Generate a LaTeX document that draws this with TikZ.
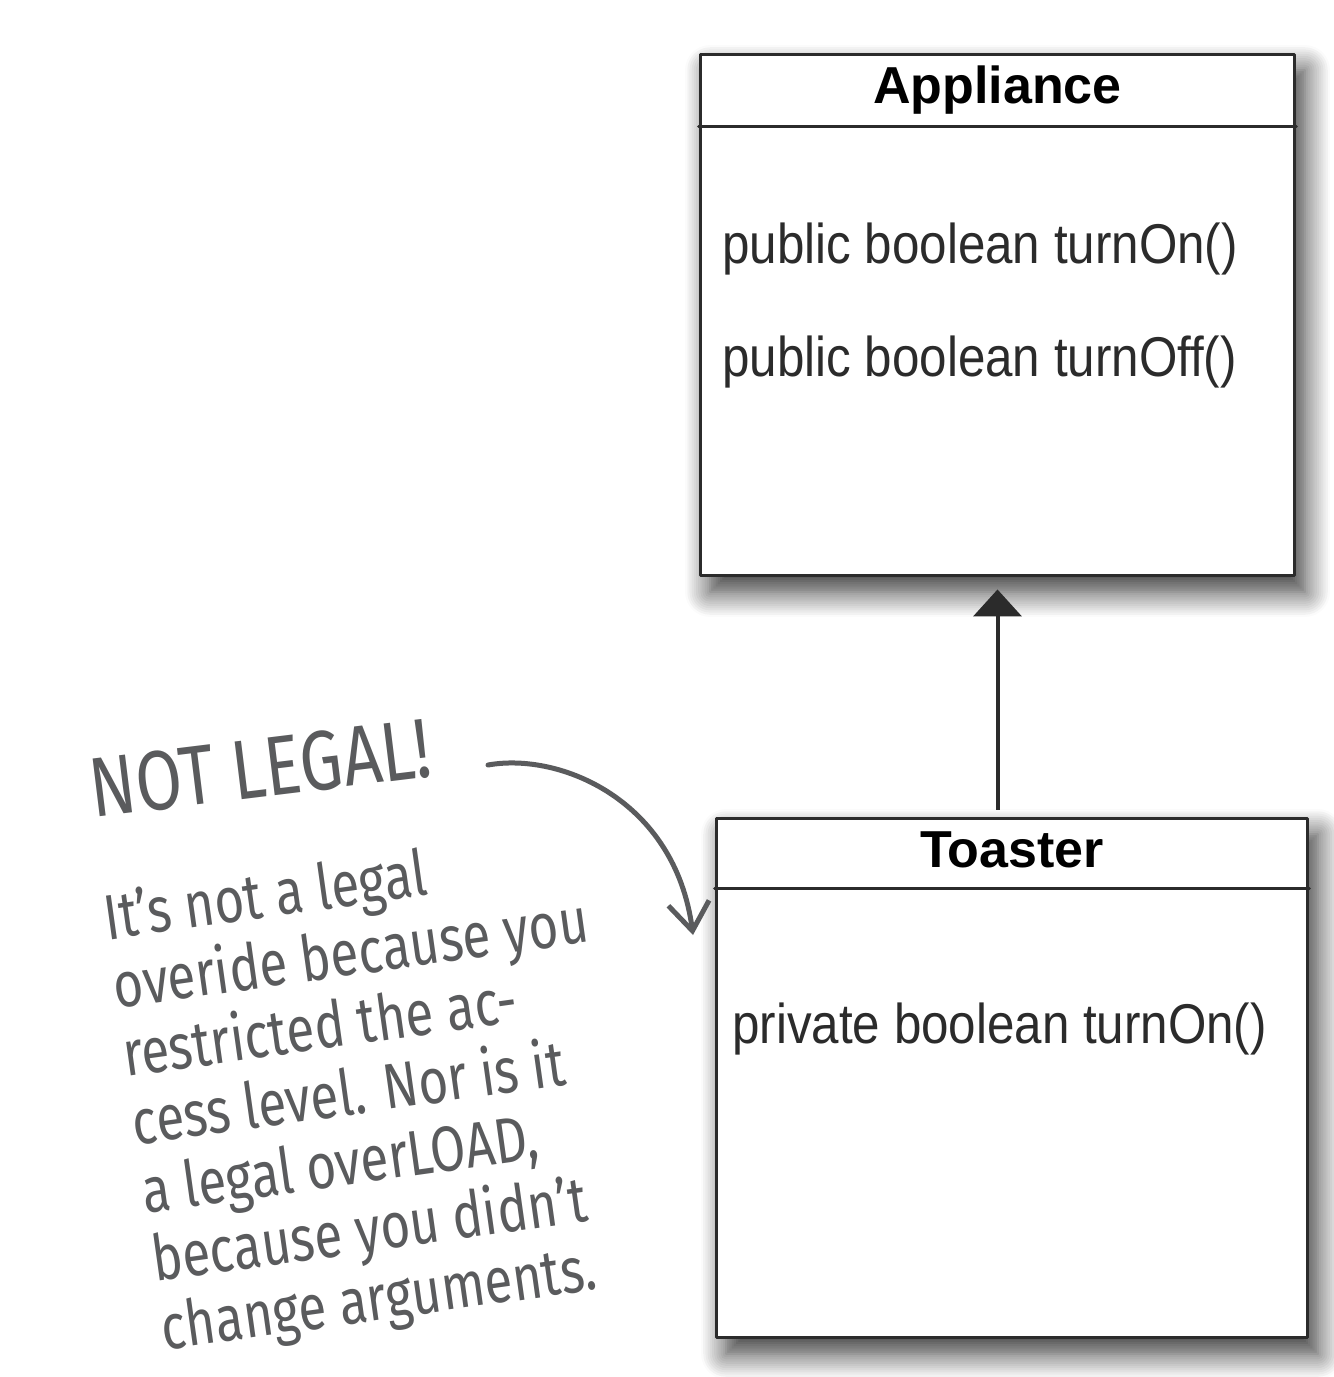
\documentclass[tikz,border=0pt]{standalone}
\usepackage{fontspec}
\setmainfont{Liberation Sans}
\newfontfamily\umlfont[FakeStretch=0.88]{Liberation Sans}
\newfontfamily\notefont[FakeStretch=0.8]{Fira Sans}
\usetikzlibrary{arrows.meta,shadows.blur,positioning}
\definecolor{umlline}{HTML}{2B2B2B}
\definecolor{pencil}{HTML}{5A5B5D}

\begin{document}
\begin{tikzpicture}[x=0.02cm, y=-0.02cm, line join=round, line cap=round]
\tikzset{
  classbox/.style={draw=umlline, line width=0.06cm, fill=white, inner sep=0pt,
    blur shadow={shadow xshift=0.2cm, shadow yshift=-0.32cm, shadow blur radius=0.5cm,
      shadow blur steps=12, shadow opacity=80}},
  classname/.style={font=\fontsize{29.6}{34}\selectfont\bfseries, text=black, anchor=base, inner sep=0pt},
  method/.style={font=\umlfont\fontsize{31.9}{36}\selectfont, text=umlline, anchor=base west, inner sep=0pt},
  note/.style={font=\notefont\fontsize{36.4}{39.3}\selectfont, text=pencil, align=left, inner sep=0pt},
  shout/.style={font=\notefont\fontsize{48}{52}\selectfont, text=pencil, inner sep=0pt}
}
\useasboundingbox (0,0) rectangle (1334,1377);

% superclass
\node[classbox, minimum width=11.9cm, minimum height=10.44cm] (appliance) at (997.5,315) {};
\draw[umlline, line width=0.06cm] ([yshift=-1.48cm]appliance.north west) -- ([yshift=-1.48cm]appliance.north east);
\node[classname] (appliancename) at ([yshift=-1.02cm]appliance.north) {Appliance};
\node[method] (turnon) at (722,263) {public boolean turnOn()};
\node[method] (turnoff) at (722,376) {public boolean turnOff()};

% subclass
\node[classbox, minimum width=11.84cm, minimum height=10.4cm] (toaster) at (1012,1078) {};
\draw[umlline, line width=0.06cm] ([yshift=-1.44cm]toaster.north west) -- ([yshift=-1.44cm]toaster.north east);
\node[classname] (toastername) at ([yshift=-1.02cm]toaster.north) {Toaster};
\node[method] (privateon) at (732,1043) {private boolean turnOn()};

% inheritance
\draw[umlline, line width=0.08cm, line cap=butt, -{Triangle[length=0.54cm, width=0.96cm]},
  shorten <=0.14cm, shorten >=0.24cm] (toaster.north -| appliance.south) -- (appliance.south);

% note
\node[shout, rotate=7, anchor=base west] (notlegal) at (93,818) {NOT LEGAL!};
\node[note, rotate=8, anchor=north west] (legalnote) at (100,892)
  {It’s not a legal\\overide because you\\restricted the ac-\\cess level. Nor is it\\a legal overLOAD,\\because you didn’t\\change arguments.};
\coordinate (notestart) at (488,765);
\coordinate (notetip) at (693,935);
\draw[pencil, line width=0.1cm, -{Straight Barb[length=0.56cm, width=0.82cm]}]
  (notestart) .. controls (560,752) and (675,800) .. (notetip);

\end{tikzpicture}
\end{document}
